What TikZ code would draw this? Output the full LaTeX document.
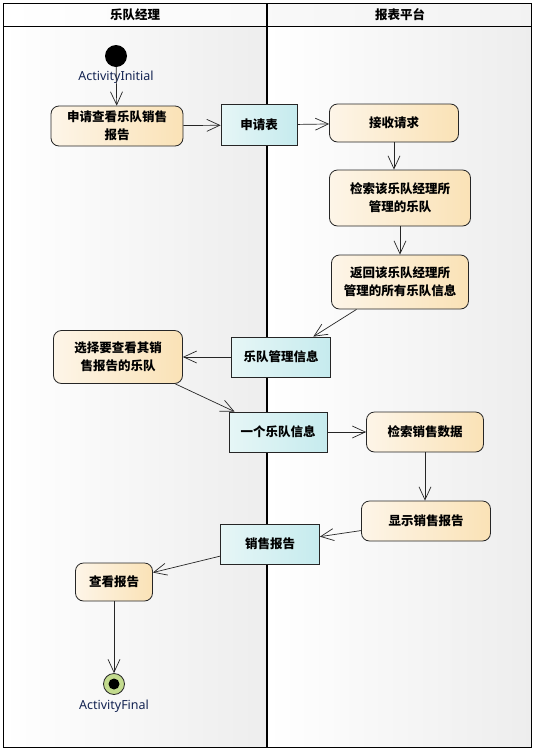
\documentclass[tikz,border=0pt]{standalone}
\usepackage{fontspec}
\setmainfont{Noto Sans}
\newfontfamily\cjk{Noto Sans CJK SC}
\usetikzlibrary{arrows.meta}

\definecolor{actL}{HTML}{FDF5E8}
\definecolor{actR}{HTML}{FAE2B6}
\definecolor{objL}{HTML}{E6F6F6}
\definecolor{objR}{HTML}{C6EBEE}
\definecolor{finalG}{HTML}{C3DB8E}
\definecolor{lblBlue}{HTML}{142452}

\tikzset{
  act/.style={draw=black!85, line width=0.8pt, rounded corners=8pt,
    left color=actL, right color=actR, align=center,
    font=\cjk\fontsize{12.5}{18}\selectfont\bfseries, inner sep=1pt},
  obj/.style={draw=black!85, line width=0.8pt,
    left color=objL, right color=objR, align=center,
    font=\cjk\fontsize{12.5}{18}\selectfont\bfseries, inner sep=1pt},
  flow/.style={draw=black!85, line width=0.7pt,
    -{Straight Barb[length=13pt,width=12pt]}},
  lbl/.style={text=lblBlue, font=\fontsize{12.5}{14}\selectfont, inner sep=0pt},
}

\begin{document}
\begin{tikzpicture}[x=1pt, y=-1pt]
\useasboundingbox (0,0) rectangle (538,753);

% swimlanes
\shade[left color=white, right color=black!7] (3,26) rectangle (267,747);
\shade[left color=white, right color=black!7] (267,26) rectangle (531,747);
\shade[left color=white, right color=black!5] (3,3) rectangle (531,26);
\draw[line width=0.8pt] (3,3) rectangle (531,747);
\draw[line width=0.8pt] (3,26) -- (531,26);
\draw[line width=1.8pt] (267,3) -- (267,747);
\node[font=\cjk\fontsize{12.5}{13}\selectfont\bfseries] (laneA) at (135,15) {乐队经理};
\node[font=\cjk\fontsize{12.5}{13}\selectfont\bfseries] (laneB) at (400,15) {报表平台};

% start and end
\node[circle, fill=black, minimum size=22pt, inner sep=0pt] (start) at (116,56) {};
\node[lbl] (startlbl) at (116,77) {ActivityInitial};
\node[circle, draw=black!85, line width=0.8pt, fill=finalG, minimum size=21pt, inner sep=0pt] (stop) at (114,684) {};
\fill (stop) circle (5.5pt);
\node[lbl] (stoplbl) at (114,706) {ActivityFinal};

% actions
\node[act, minimum width=132pt, minimum height=40pt] (ask) at (117,126) {申请查看乐队销售\\报告};
\node[act, minimum width=129pt, minimum height=38pt] (recv) at (394,123) {接收请求};
\node[act, minimum width=141pt, minimum height=56pt] (find) at (400,198) {检索该乐队经理所\\管理的乐队};
\node[act, minimum width=137pt, minimum height=54pt] (back) at (400,282) {返回该乐队经理所\\管理的所有乐队信息};
\node[act, minimum width=129pt, minimum height=53pt] (pick) at (118,357) {选择要查看其销\\售报告的乐队};
\node[act, minimum width=117pt, minimum height=40pt] (data) at (425,432) {检索销售数据};
\node[act, minimum width=129pt, minimum height=40pt] (show) at (426,521) {显示销售报告};
\node[act, minimum width=77pt, minimum height=38pt] (view) at (114,582) {查看报告};

% objects
\node[obj, minimum width=76pt, minimum height=41pt] (form) at (259,125) {申请表};
\node[obj, minimum width=99pt, minimum height=40pt] (bands) at (281,357) {乐队管理信息};
\node[obj, minimum width=98pt, minimum height=40pt] (band) at (278,432) {一个乐队信息};
\node[obj, minimum width=99pt, minimum height=40pt] (report) at (270,544) {销售报告};

% flows
\draw[flow] (start) -- (ask);
\draw[flow] (ask) -- (form);
\draw[flow] (form) -- (recv);
\draw[flow] (recv.south) -- (recv.south |- find.north);
\draw[flow] (find) -- (back);
\draw[flow] (back) -- (bands);
\draw[flow] (bands) -- (pick);
\draw[flow] (pick) -- (band);
\draw[flow] (band) -- (data);
\draw[flow] (data.south) -- (data.south |- show.north);
\draw[flow] (show) -- (report);
\draw[flow] (report) -- (view);
\draw[flow] (view) -- (stop);
\end{tikzpicture}
\end{document}
